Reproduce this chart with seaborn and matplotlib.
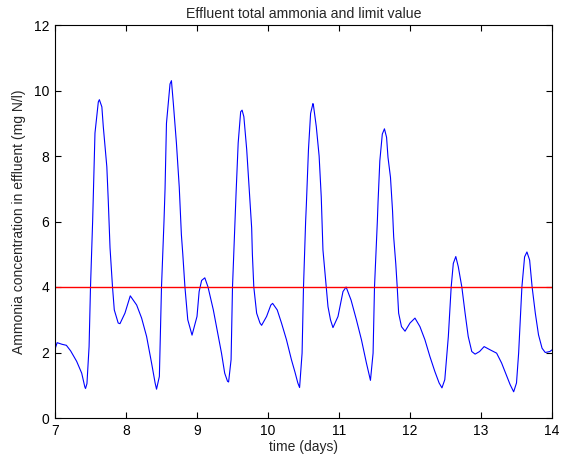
import matplotlib
matplotlib.use("Agg")
import matplotlib.pyplot as plt
import seaborn as sns
import pandas as pd

days = [7.00, 7.03, 7.10, 7.16, 7.22, 7.305, 7.376, 7.42, 7.43, 7.45, 7.48, 7.50, 7.53,
        7.54, 7.563, 7.61, 7.625, 7.66, 7.68, 7.73, 7.75, 7.775, 7.81, 7.835, 7.89, 7.915,
        7.985, 8.06, 8.15, 8.22, 8.29, 8.36, 8.41, 8.43, 8.47, 8.50, 8.535,
        8.55, 8.57, 8.62, 8.64, 8.667, 8.71, 8.75, 8.78, 8.80, 8.83, 8.87, 8.93,
        9.00, 9.03, 9.065, 9.11, 9.155, 9.23, 9.30, 9.345, 9.39, 9.43, 9.445, 9.48, 9.50, 9.535,
        9.55, 9.58, 9.615, 9.635, 9.66, 9.70, 9.746, 9.77, 9.78, 9.80, 9.84, 9.887, 9.91,
        9.98, 10.04, 10.065, 10.13, 10.19, 10.26, 10.33, 10.38, 10.42, 10.445, 10.48, 10.50, 10.53,
        10.54, 10.57, 10.60, 10.633, 10.64, 10.68, 10.72, 10.75, 10.774, 10.82, 10.845, 10.88, 10.915,
        10.986, 11.056, 11.10, 11.17, 11.245, 11.316, 11.386, 11.443, 11.48, 11.50, 11.54,
        11.55, 11.575, 11.61, 11.64, 11.67, 11.69, 11.725, 11.754, 11.77, 11.80, 11.82, 11.84, 11.88, 11.93,
        12.00, 12.07, 12.14, 12.21, 12.28, 12.35, 12.41, 12.45, 12.49, 12.54, 12.58, 12.61, 12.645,
        12.68, 12.73, 12.776, 12.82, 12.87, 12.917, 12.98, 13.044, 13.13, 13.22, 13.29, 13.365, 13.41,
        13.46, 13.50, 13.53, 13.576, 13.614, 13.647, 13.685, 13.72, 13.765, 13.81, 13.86, 13.905,
        13.97, 14.00]
ammonia = [2.10, 2.30, 2.25, 2.22, 2.05, 1.73, 1.37, 0.95, 0.90, 1.05, 2.18, 4.00, 6.00,
           6.85, 8.70, 9.65, 9.72, 9.50, 8.90, 7.67, 6.65, 5.20, 4.00, 3.30, 2.90, 2.88,
           3.20, 3.73, 3.45, 3.05, 2.49, 1.68, 1.07, 0.88, 1.27, 4.00, 6.00,
           7.00, 9.00, 10.20, 10.30, 9.60, 8.40, 7.05, 5.60, 5.00, 4.00, 3.00, 2.53,
           3.10, 3.86, 4.20, 4.28, 4.00, 3.30, 2.49, 1.98, 1.37, 1.12, 1.10, 1.78, 4.00, 6.00,
           6.85, 8.40, 9.35, 9.40, 9.20, 8.20, 6.65, 5.80, 5.00, 4.00, 3.20, 2.90, 2.83,
           3.10, 3.45, 3.50, 3.30, 2.90, 2.39, 1.78, 1.40, 1.07, 0.93, 1.98, 4.00, 6.00,
           6.50, 8.20, 9.30, 9.60, 9.55, 8.90, 8.00, 6.75, 5.13, 4.00, 3.40, 3.00, 2.76,
           3.10, 3.86, 4.00, 3.60, 3.00, 2.39, 1.68, 1.15, 1.98, 4.00, 6.00,
           6.60, 7.85, 8.67, 8.83, 8.57, 7.96, 7.35, 6.33, 5.53, 4.70, 4.00, 3.20, 2.79, 2.65,
           2.90, 3.05, 2.79, 2.39, 1.88, 1.42, 1.07, 0.92, 1.17, 2.49, 4.00, 4.72, 4.93,
           4.62, 4.00, 3.20, 2.49, 2.03, 1.95, 2.03, 2.18, 2.08, 1.98, 1.68, 1.27, 1.02,
           0.80, 1.07, 1.98, 4.00, 4.92, 5.07, 4.82, 4.00, 3.20, 2.54, 2.13, 2.00,
           2.03, 2.08]
limit_days = [7, 14]
limit_value = [4, 4]

x_ticks = [7, 8, 9, 10, 11, 12, 13, 14]
y_ticks = [0, 2, 4, 6, 8, 10, 12]

sns.set_theme(style="white")
plt.rcParams['font.family'] = ['Liberation Sans', 'DejaVu Sans']

fig = plt.figure(figsize=(5.68, 4.59), dpi=100)
ax = fig.add_axes([55 / 568, (459 - 418) / 459, 497 / 568, 393 / 459])

df = pd.DataFrame({"t": days, "v": ammonia})
lim = pd.DataFrame({"t": limit_days, "v": limit_value})
sns.lineplot(data=df, x="t", y="v", ax=ax, color="#0000ff", linewidth=0.8, sort=False)
sns.lineplot(data=lim, x="t", y="v", ax=ax, color="#ff0000", linewidth=1.0)

ax.set_xlim(7, 14)
ax.set_ylim(0, 12)
ax.set_xticks(x_ticks)
ax.set_yticks(y_ticks)
ax.tick_params(direction="in", length=4, width=0.8, top=True, right=True,
               bottom=True, left=True, labelsize=10, colors="black", pad=4)
for s in ax.spines.values():
    s.set_color("black")
    s.set_linewidth(0.8)
ax.set_xlabel("time (days)", fontsize=10, labelpad=2)
ax.set_ylabel("Ammonia concentration in effluent (mg N/l)", fontsize=10, labelpad=6)
ax.set_title("Effluent total ammonia and limit value", fontsize=10.2, pad=5)

fig.savefig("out.png", dpi=100)
